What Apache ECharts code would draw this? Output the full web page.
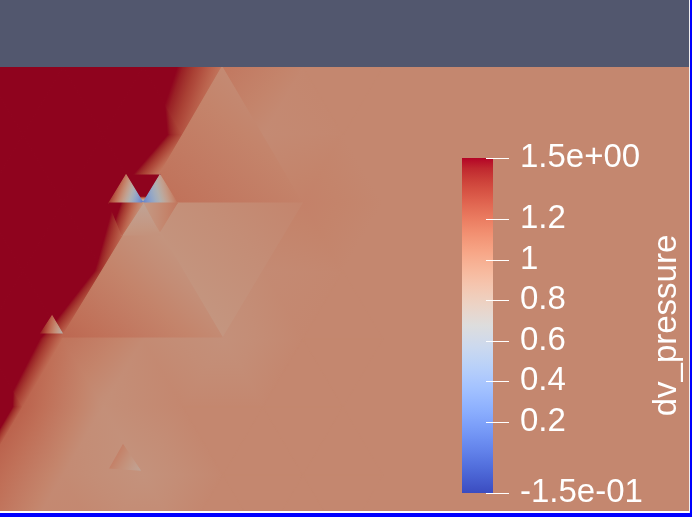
<!DOCTYPE html>
<html>
<head>
<meta charset="utf-8">
<script src="https://cdn.jsdelivr.net/npm/echarts@6/dist/echarts.min.js"></script>
<style>
  html, body { margin: 0; padding: 0; background: #52576E; }
  #chart { width: 692px; height: 517px; }
</style>
</head>
<body>
<div id="chart"></div>
<script>
// colour range of dv_pressure
const rangeMin = -0.15;
const rangeMax = 1.5;
const labelValues = [-0.15, 0.2, 0.4, 0.6, 0.8, 1, 1.2, 1.5];

// mesh rows (y) and the two alternating column sets (x)
const rowY = [67, 135, 203, 271, 339, 407, 475, 543];
const colsEven = [-17, 63, 143, 223, 303, 383];
const colsOdd = [-57, 23, 103, 183, 263, 343];

// dv_pressure at the mesh nodes, one list per row
const row0 = [3.9, 2.8, 1.8, 1.1, 1.02, 1.02];
const row1 = [5.2, 3.87, 2.53, 1.25, 1.0, 1.02];
const row2 = [3.8, 2.45, 0.95, 1.0, 1.05, 1.02];
const row3 = [4.36, 2.76, 1.35, 0.97, 1.0, 1.02];
const row4 = [2.43, 1.12, 1.0, 0.96, 1.02, 1.02];
const row5 = [3.5, 1.2, 0.97, 1.02, 1.02, 1.02];
const row6 = [1.2, 1.0, 0.95, 1.02, 1.02, 1.02];
const row7 = [1.1, 1.02, 1.02, 1.02, 1.02, 1.02];

// far field value
const farValue = 1.02;

// coarse elements with their own corner values: x, y, value per corner
const coarseTris = [
  [222, 67, 1.0, 143, 203, 1.15, 302, 203, 1.05],
  [143, 203, 0.95, 302, 203, 1.03, 222, 337, 0.93],
  [143, 203, 0.92, 62, 337, 1.18, 222, 337, 1.0]
];

// refined elements near the front
const refinedTris = [
  [126, 175, 6.0, 160, 175, 6.0, 143, 203, 0.1],
  [126, 175, 1.1, 109, 203, 1.35, 143, 203, 0.15],
  [160, 175, 0.85, 177, 203, 1.1, 143, 203, 0.2],
  [143, 203, 0.9, 177, 203, 1.1, 160, 231, 1.0],
  [143, 203, 0.82, 160, 235, 0.95, 122, 235, 0.95],
  [143, 203, 0.95, 122, 235, 1.2, 109, 203, 1.8],
  [52, 316, 1.2, 41, 333, 1.45, 62, 333, 0.72],
  [123, 445, 1.05, 110, 468, 1.05, 140, 470, 0.82]
];

// ParaView "Cool to Warm"
const coolwarm = [
  [59,76,192],[68,90,204],[77,104,215],[87,117,225],[98,130,234],[108,142,241],
  [119,154,247],[130,165,251],[141,176,254],[152,185,255],[163,194,255],[174,201,253],
  [184,208,249],[194,213,244],[204,217,238],[213,219,230],[221,221,221],[229,216,209],
  [236,211,197],[241,204,185],[245,196,173],[247,187,160],[247,177,148],[247,166,135],
  [244,154,123],[241,141,111],[236,127,99],[229,112,88],[222,96,77],[213,80,66],
  [203,62,56],[192,40,47],[180,4,38]
];
const shade = 0.795;

function colorAt(v, f) {
  let t = (v - rangeMin) / (rangeMax - rangeMin);
  t = Math.max(0, Math.min(1, t));
  const s = t * (coolwarm.length - 1);
  let i = Math.floor(s);
  if (i >= coolwarm.length - 1) i = coolwarm.length - 2;
  const u = s - i;
  const a = coolwarm[i], b = coolwarm[i + 1];
  const c = [0, 1, 2].map(k => Math.round((a[k] * (1 - u) + b[k] * u) * f));
  return 'rgb(' + c.join(',') + ')';
}

function stopsFor(vmin, vmax, f) {
  const vals = [vmin];
  for (let i = 0; i < coolwarm.length; i++) {
    const v = rangeMin + (rangeMax - rangeMin) * i / (coolwarm.length - 1);
    if (v > vmin && v < vmax) vals.push(v);
  }
  vals.push(vmax);
  return vals.map(v => ({ offset: (v - vmin) / (vmax - vmin), color: colorAt(v, f) }));
}

// build the triangle list
const rows = [row0, row1, row2, row3, row4, row5, row6, row7];
function node(r, c) {
  const xs = r % 2 === 0 ? colsEven : colsOdd;
  return [xs[c], rowY[r], rows[r][c]];
}
function tri(a, b, c) {
  return [a[0], a[1], b[0], b[1], c[0], c[1], a[2], b[2], c[2]];
}
const meshData = [];
for (let r = 0; r < rows.length - 1; r++) {
  for (let c = 0; c < colsEven.length - 1; c++) {
    if (r % 2 === 0) {
      meshData.push(tri(node(r, c), node(r + 1, c), node(r + 1, c + 1)));
      meshData.push(tri(node(r, c), node(r, c + 1), node(r + 1, c + 1)));
    } else {
      meshData.push(tri(node(r, c), node(r, c + 1), node(r + 1, c)));
      meshData.push(tri(node(r + 1, c), node(r + 1, c + 1), node(r, c + 1)));
    }
  }
}
coarseTris.concat(refinedTris).forEach(t => {
  meshData.push([t[0], t[1], t[3], t[4], t[6], t[7], t[2], t[5], t[8]]);
});

function renderTri(params, api) {
  const pts = [0, 1, 2].map(k => api.coord([api.value(2 * k), api.value(2 * k + 1)]));
  const vals = [api.value(6), api.value(7), api.value(8)];
  const e1 = [pts[1][0] - pts[0][0], pts[1][1] - pts[0][1]];
  const e2 = [pts[2][0] - pts[0][0], pts[2][1] - pts[0][1]];
  const d1 = vals[1] - vals[0], d2 = vals[2] - vals[0];
  const det = e1[0] * e2[1] - e1[1] * e2[0];
  const vmin = Math.min.apply(null, vals), vmax = Math.max.apply(null, vals);
  let fill;
  if (Math.abs(det) < 1e-9 || vmax - vmin < 1e-9) {
    fill = colorAt(vals[0], shade);
  } else {
    const gx = (d1 * e2[1] - d2 * e1[1]) / det;
    const gy = (e1[0] * d2 - e2[0] * d1) / det;
    const g2 = gx * gx + gy * gy;
    const p0 = pts[vals.indexOf(vmin)];
    const len = (vmax - vmin) / g2;
    fill = {
      type: 'linear', global: true,
      x: p0[0], y: p0[1], x2: p0[0] + gx * len, y2: p0[1] + gy * len,
      colorStops: stopsFor(vmin, vmax, shade)
    };
  }
  return {
    type: 'polygon',
    shape: { points: pts },
    style: { fill: fill, stroke: fill, lineWidth: 1.2 }
  };
}

// background of the field: the far-field value over the whole grid
function renderFar(params, api) {
  const cs = params.coordSys;
  return {
    type: 'rect',
    shape: { x: cs.x, y: cs.y, width: cs.width, height: cs.height },
    style: { fill: colorAt(api.value(0), shade) }
  };
}

// colour bar with its tick marks
function renderBar(params, api) {
  const top = api.coord([0, rangeMax]);
  const bot = api.coord([0, rangeMin]);
  const cs = params.coordSys;
  const stops = coolwarm.map((c, i) => ({
    offset: 1 - i / (coolwarm.length - 1),
    color: 'rgb(' + c.join(',') + ')'
  })).reverse();
  const children = [{
    type: 'rect',
    shape: { x: cs.x, y: top[1], width: cs.width, height: bot[1] - top[1] },
    style: { fill: { type: 'linear', x: 0, y: 0, x2: 0, y2: 1, colorStops: stops } }
  }];
  labelValues.forEach(v => {
    const y = Math.round(api.coord([0, v])[1]) + 0.5;
    children.push({
      type: 'line',
      shape: { x1: cs.x + cs.width - 7, y1: y, x2: cs.x + cs.width + 16, y2: y },
      style: { stroke: '#ffffff', lineWidth: 1 }
    });
  });
  return { type: 'group', children: children };
}

function fmtLabel(v) {
  if (v === rangeMin || v === rangeMax) {
    return v.toExponential(1).replace(/e([+-])(\d)$/, 'e$10$2');
  }
  return String(v);
}

const chart = echarts.init(document.getElementById('chart'));
chart.setOption({
  backgroundColor: '#52576E',
  animation: false,
  grid: [
    { left: 0, top: 67, right: 3, bottom: 6 },
    { left: 462, top: 158, width: 31, height: 335 }
  ],
  xAxis: [
    { gridIndex: 0, type: 'value', min: 0, max: 689, show: false },
    { gridIndex: 1, type: 'value', min: 0, max: 1, show: false }
  ],
  yAxis: [
    { gridIndex: 0, type: 'value', min: 67, max: 511, inverse: true, show: false },
    {
      gridIndex: 1, type: 'value', min: rangeMin, max: rangeMax,
      position: 'right', z: 5,
      splitLine: { show: false },
      axisLine: { show: false },
      axisTick: { show: false, customValues: labelValues },
      axisLabel: {
        customValues: labelValues, margin: 27, formatter: fmtLabel,
        color: '#ffffff', fontSize: 33, fontFamily: 'Liberation Sans'
      },
      name: 'dv_pressure', nameLocation: 'middle', nameRotate: 90, nameGap: 157,
      nameTextStyle: { color: '#ffffff', fontSize: 33, fontFamily: 'Liberation Sans' }
    }
  ],
  series: [
    {
      type: 'custom', xAxisIndex: 0, yAxisIndex: 0, silent: true,
      renderItem: renderFar, data: [[farValue]]
    },
    {
      type: 'custom', xAxisIndex: 0, yAxisIndex: 0, clip: true, silent: true,
      renderItem: renderTri, data: meshData
    },
    {
      type: 'custom', xAxisIndex: 1, yAxisIndex: 1, silent: true,
      renderItem: renderBar, data: [[0, 0]]
    }
  ],
  graphic: [
    { type: 'rect', shape: { x: 0, y: 511, width: 690, height: 2 }, style: { fill: '#ffffff' } },
    { type: 'rect', shape: { x: 689, y: 0, width: 1, height: 513 }, style: { fill: '#f0f0f0' } },
    { type: 'rect', shape: { x: 0, y: 513, width: 692, height: 4 }, style: { fill: '#0000ff' } },
    { type: 'rect', shape: { x: 690, y: 0, width: 2, height: 517 }, style: { fill: '#0000ff' } }
  ]
});
</script>
</body>
</html>
